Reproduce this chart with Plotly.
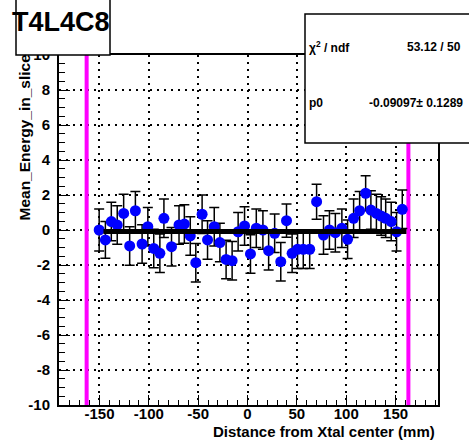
import plotly.graph_objects as go

# ---- data ----
dist_mm = [-150.3, -144, -138, -132, -125.5, -119.4, -113.6, -106.8, -101, -95,
           -88.8, -84.7, -77, -69.4, -64, -58, -52.4, -46, -40.5, -33.7,
           -28, -21.7, -15.6, -9.5, -3, 3, 8.9, 15.6, 21.4, 27.5,
           33.7, 39.5, 45.2, 50.7, 56.5, 63, 70, 77, 83, 89,
           95.6, 101.4, 107.5, 113.6, 119.7, 125, 130.6, 135.4, 140, 145.6,
           151, 156.8]
mean_energy = [0.0, -0.57, 0.48, 0.28, 0.95, -0.91, 1.1, -0.8, 0.19, -1.05,
               -1.33, 0.67, -0.95, 0.29, 0.34, -0.34, -1.87, 0.9, -0.57, 0.19,
               -0.72, -1.68, -1.75, -0.1, 0.23, -1.37, 0.1, 0.0, -1.18, -0.19,
               -1.81, 0.53, -1.33, -1.1, -1.1, -1.1, 1.62, -0.29, 0.0, -0.15,
               0.1, -0.53, 0.67, 1.1, 2.1, 1.14, 0.95, 0.8, 0.67, 0.48,
               -0.1, 1.18]
mean_err = [1.2, 1.05, 1.1, 1.1, 1.1, 1.1, 1.1, 1.1, 1.1, 1.1,
            1.1, 1.1, 1.1, 1.1, 1.1, 1.1, 1.1, 1.1, 1.1, 1.1,
            1.1, 1.1, 1.1, 1.1, 1.1, 1.1, 1.1, 1.1, 1.1, 1.1,
            1.1, 0.95, 1.1, 1.1, 1.1, 1.1, 1.0, 1.1, 1.1, 1.1,
            1.1, 1.1, 1.1, 1.1, 1.0, 1.1, 1.1, 1.1, 1.1, 1.1,
            1.1, 1.1]

fit_p0 = -0.09097
fit_range = [-146, 161]
edges = [-163, 163]

xtick_vals = [-150, -100, -50, 0, 50, 100, 150]
xtick_text = ["-150", "-100", "-50", "0", "50", "100", "150"]
ytick_vals = [-10, -8, -6, -4, -2, 0, 2, 4, 6, 8, 10]
ytick_text = ["-10", "-8", "-6", "-4", "-2", "0", "2", "4", "6", "8", "10"]

FONT = "Liberation Sans, Arial, Helvetica, sans-serif"

fig = go.Figure()

# magenta crystal edges
for e in edges:
    fig.add_trace(go.Scatter(x=[e, e], y=[-10, 10], mode="lines",
                             line=dict(color="#ff00ff", width=4),
                             showlegend=False, hoverinfo="skip"))

fig.add_trace(go.Scatter(
    x=dist_mm, y=mean_energy, mode="markers",
    marker=dict(color="#0000ff", size=11),
    error_y=dict(type="data", array=mean_err, color="black", thickness=1.5, width=5),
    showlegend=False))

# constant fit
fig.add_trace(go.Scatter(x=fit_range, y=[fit_p0, fit_p0], mode="lines",
                         line=dict(color="black", width=5),
                         showlegend=False, hoverinfo="skip"))

axis_common = dict(
    showline=True, mirror=True, linecolor="black", linewidth=2,
    ticks="inside", tickcolor="black", tickwidth=1,
    showgrid=True, gridcolor="black", gridwidth=1.5, griddash="2px,5px",
    zeroline=False, tickmode="array",
    tickfont=dict(family=FONT, size=15, color="black", weight="bold"),
)

fig.update_xaxes(range=[-191, 193], tickvals=xtick_vals, ticktext=xtick_text,
                 ticklen=10, ticklabelstandoff=-6,
                 minor=dict(dtick=10, tick0=0, ticks="inside", ticklen=5,
                            tickcolor="black", showgrid=False),
                 **axis_common)
fig.update_yaxes(range=[-10, 10], tickvals=ytick_vals, ticktext=ytick_text,
                 ticklen=11, ticklabelstandoff=4,
                 minor=dict(dtick=0.5, tick0=0, ticks="inside", ticklen=6,
                            tickcolor="black", showgrid=False),
                 **axis_common)

W, H = 469, 440
L, R, T, B = 59, 31, 55, 35
pw, ph = W - L - R, H - T - B


def px_x(px):
    return (px - L) / pw


def px_y(py):
    return (H - B - py) / ph


shapes = [
    # title box (open at top)
    dict(type="path", xref="paper", yref="paper",
         path=f"M {px_x(16)},{px_y(-10)} L {px_x(16)},{px_y(55)} L {px_x(110)},{px_y(55)} L {px_x(110)},{px_y(-10)}",
         line=dict(color="black", width=1.5), fillcolor="white", layer="above"),
    # stats box
    dict(type="rect", xref="paper", yref="paper",
         x0=px_x(305), x1=px_x(480), y0=px_y(143), y1=px_y(14),
         line=dict(color="black", width=1.5), fillcolor="white", layer="above"),
]

bold = lambda s: dict(family=FONT, size=s, color="black", weight="bold")

annotations = [
    dict(text="T4L4C8", xref="paper", yref="paper", x=px_x(61), y=px_y(22),
         xanchor="center", yanchor="middle", showarrow=False, font=bold(27)),
    dict(text="χ<sup>2</sup> / ndf", xref="paper", yref="paper", x=px_x(307), y=px_y(47),
         xanchor="left", yanchor="middle", showarrow=False, font=bold(12)),
    dict(text="53.12 / 50", xref="paper", yref="paper", x=px_x(463), y=px_y(47),
         xanchor="right", yanchor="middle", showarrow=False, font=bold(12)),
    dict(text="p0", xref="paper", yref="paper", x=px_x(307), y=px_y(103),
         xanchor="left", yanchor="middle", showarrow=False, font=bold(12)),
    dict(text="-0.09097± 0.1289", xref="paper", yref="paper", x=px_x(465), y=px_y(103),
         xanchor="right", yanchor="middle", showarrow=False, font=bold(12)),
    dict(text="Distance from Xtal center (mm)", xref="paper", yref="paper",
         x=px_x(437), y=px_y(431), xanchor="right", yanchor="middle",
         showarrow=False, font=bold(15)),
    dict(text="Mean_Energy_in_slice", xref="paper", yref="paper", textangle=-90,
         x=px_x(24), y=px_y(52), xanchor="center", yanchor="top",
         showarrow=False, font=bold(15.5)),
]

fig.update_layout(
    width=W, height=H,
    margin=dict(l=L, r=R, t=T, b=B),
    paper_bgcolor="white", plot_bgcolor="white",
    shapes=shapes, annotations=annotations,
    showlegend=False,
)

# drop the default page margin so the figure sits at the window's corner
fig.write_html("out.html", config={"displayModeBar": False},
               post_script="document.body.style.margin='0';")
